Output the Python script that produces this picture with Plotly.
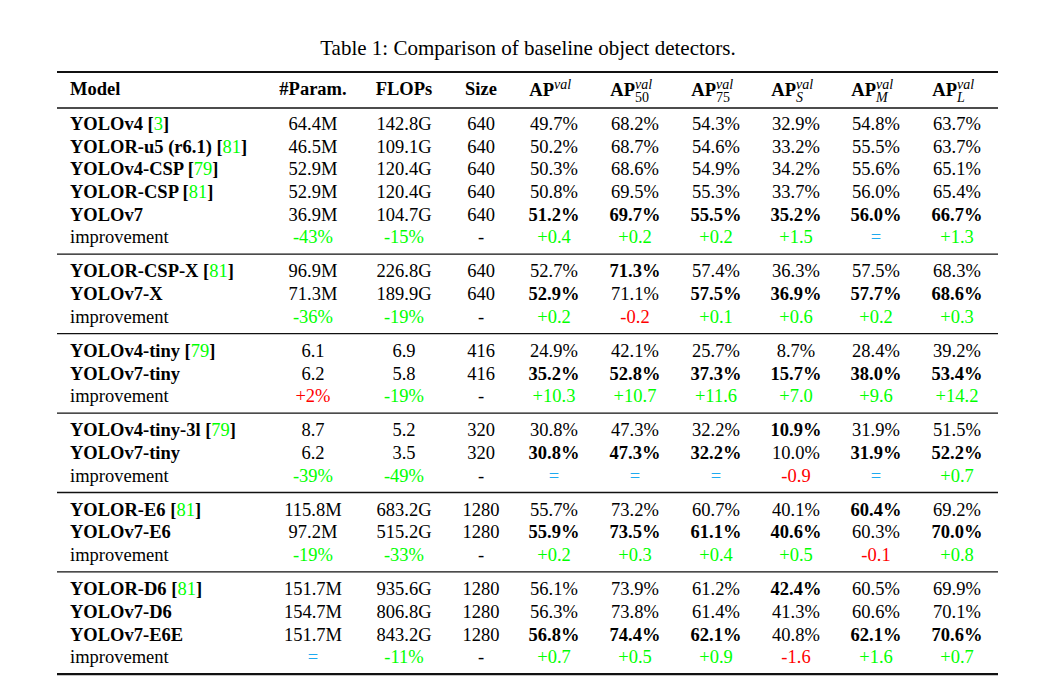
import plotly.graph_objects as go

# ---------------- data ----------------
title = "Table 1: Comparison of baseline object detectors."
head_cols = ["Model", "#Param.", "FLOPs", "Size"]
ap_subs = ["", "50", "75", "S", "M", "L"]
ap_sub_italic = [False, False, False, True, True, True]

models = ["YOLOv4", "YOLOR-u5 (r6.1)", "YOLOv4-CSP", "YOLOR-CSP", "YOLOv7", "improvement",
          "YOLOR-CSP-X", "YOLOv7-X", "improvement",
          "YOLOv4-tiny", "YOLOv7-tiny", "improvement",
          "YOLOv4-tiny-3l", "YOLOv7-tiny", "improvement",
          "YOLOR-E6", "YOLOv7-E6", "improvement",
          "YOLOR-D6", "YOLOv7-D6", "YOLOv7-E6E", "improvement"]
refs = ["3", "81", "79", "81", "", "",
        "81", "", "",
        "79", "", "",
        "79", "", "",
        "81", "", "",
        "81", "", "", ""]
group_sizes = [6, 3, 3, 3, 3, 4]

params = ["64.4M", "46.5M", "52.9M", "52.9M", "36.9M", "-43%",
          "96.9M", "71.3M", "-36%",
          "6.1", "6.2", "+2%",
          "8.7", "6.2", "-39%",
          "115.8M", "97.2M", "-19%",
          "151.7M", "154.7M", "151.7M", "="]
flops = ["142.8G", "109.1G", "120.4G", "120.4G", "104.7G", "-15%",
         "226.8G", "189.9G", "-19%",
         "6.9", "5.8", "-19%",
         "5.2", "3.5", "-49%",
         "683.2G", "515.2G", "-33%",
         "935.6G", "806.8G", "843.2G", "-11%"]
sizes = ["640", "640", "640", "640", "640", "-",
         "640", "640", "-",
         "416", "416", "-",
         "320", "320", "-",
         "1280", "1280", "-",
         "1280", "1280", "1280", "-"]
ap = ["49.7%", "50.2%", "50.3%", "50.8%", "51.2%", "+0.4",
      "52.7%", "52.9%", "+0.2",
      "24.9%", "35.2%", "+10.3",
      "30.8%", "30.8%", "=",
      "55.7%", "55.9%", "+0.2",
      "56.1%", "56.3%", "56.8%", "+0.7"]
ap50 = ["68.2%", "68.7%", "68.6%", "69.5%", "69.7%", "+0.2",
        "71.3%", "71.1%", "-0.2",
        "42.1%", "52.8%", "+10.7",
        "47.3%", "47.3%", "=",
        "73.2%", "73.5%", "+0.3",
        "73.9%", "73.8%", "74.4%", "+0.5"]
ap75 = ["54.3%", "54.6%", "54.9%", "55.3%", "55.5%", "+0.2",
        "57.4%", "57.5%", "+0.1",
        "25.7%", "37.3%", "+11.6",
        "32.2%", "32.2%", "=",
        "60.7%", "61.1%", "+0.4",
        "61.2%", "61.4%", "62.1%", "+0.9"]
apS = ["32.9%", "33.2%", "34.2%", "33.7%", "35.2%", "+1.5",
       "36.3%", "36.9%", "+0.6",
       "8.7%", "15.7%", "+7.0",
       "10.9%", "10.0%", "-0.9",
       "40.1%", "40.6%", "+0.5",
       "42.4%", "41.3%", "40.8%", "-1.6"]
apM = ["54.8%", "55.5%", "55.6%", "56.0%", "56.0%", "=",
       "57.5%", "57.7%", "+0.2",
       "28.4%", "38.0%", "+9.6",
       "31.9%", "31.9%", "=",
       "60.4%", "60.3%", "-0.1",
       "60.5%", "60.6%", "62.1%", "+1.6"]
apL = ["63.7%", "63.7%", "65.1%", "65.4%", "66.7%", "+1.3",
       "68.3%", "68.6%", "+0.3",
       "39.2%", "53.4%", "+14.2",
       "51.5%", "52.2%", "+0.7",
       "69.2%", "70.0%", "+0.8",
       "69.9%", "70.1%", "70.6%", "+0.7"]
# AP columns (0..5) printed in bold, per row
bold_ap = {4: [0, 1, 2, 3, 4, 5], 6: [1], 7: [0, 2, 3, 4, 5], 10: [0, 1, 2, 3, 4, 5],
           12: [3], 13: [0, 1, 2, 4, 5], 15: [4], 16: [0, 1, 2, 3, 5],
           18: [3], 20: [0, 1, 2, 4, 5]}

# ---------------- layout / style ----------------
W, H = 1063, 686
PAGE_OFF = 8          # browser body margin compensation
FONT = "Liberation Serif"
FS = 18.5
FS_TITLE = 21
FS_SMALL = 14
GREEN, RED, BLUE, BLACK = "#00ff00", "#ff0000", "#1eaaf0", "#000000"
X_MODEL = 70
COL_X = [313, 404, 481, 554, 635, 716, 796, 876, 957]
Y_TITLE = 50
Y_HEAD = 90.5
Y_FIRST = 125.3
ROW_H = 22.68
GROUP_GAP = 11.4
RULE_X0, RULE_X1 = 57, 998
Y_TOP_RULE, Y_HEAD_RULE = 72, 108
RULE_BELOW = 15.5

group_of = []
for g, n in enumerate(group_sizes):
    group_of += [g] * n
row_y = [Y_FIRST + ROW_H * i + GROUP_GAP * g for i, g in enumerate(group_of)]

fig = go.Figure()


def add_text(xs, ys, texts, colors, pos, size=FS):
    fig.add_trace(go.Scatter(
        x=xs, y=ys, text=texts, mode="text", textposition=pos,
        textfont=dict(family=FONT, size=size, color=colors),
        hoverinfo="skip", showlegend=False))


def add_rule(y, width):
    fig.add_trace(go.Scatter(
        x=[RULE_X0, RULE_X1], y=[y, y], mode="lines",
        line=dict(color="#111111", width=width),
        hoverinfo="skip", showlegend=False))


# title
add_text([528], [Y_TITLE], [title], [BLACK], "middle center", FS_TITLE)

# header
add_text([X_MODEL], [Y_HEAD], ["<b>Model</b>"], [BLACK], "middle right")
add_text(COL_X[:3], [Y_HEAD] * 3, ["<b>%s</b>" % h for h in head_cols[1:]], [BLACK] * 3, "middle center")
ap_cols_x = COL_X[3:]
add_text(ap_cols_x, [Y_HEAD + 1] * 6, ["<b>AP</b>"] * 6, [BLACK] * 6, "middle left")
add_text(ap_cols_x, [Y_HEAD - 5.5] * 6, ["<i>val</i>"] * 6, [BLACK] * 6, "middle right", FS_SMALL)
sub_x = [x for x, s in zip(ap_cols_x, ap_subs) if s]
sub_t = [("<i>%s</i>" % s) if it else s for s, it in zip(ap_subs, ap_sub_italic) if s]
add_text(sub_x, [Y_HEAD + 8] * len(sub_x), sub_t, [BLACK] * len(sub_x), "middle right", FS_SMALL)

# model column
model_txt = []
for m, r in zip(models, refs):
    if m == "improvement":
        model_txt.append(m)
    elif r:
        model_txt.append("<b>%s [</b><span style='color:%s'>%s</span><b>]</b>" % (m, GREEN, r))
    else:
        model_txt.append("<b>%s</b>" % m)
add_text([X_MODEL] * len(models), row_y, model_txt, [BLACK] * len(models), "middle right")


def impr_color(v, lower_better):
    if v == "=":
        return BLUE
    if v == "-":
        return BLACK
    neg = v.startswith("-")
    good = neg if lower_better else not neg
    return GREEN if good else RED


columns = [params, flops, sizes, ap, ap50, ap75, apS, apM, apL]
for c, vals in enumerate(columns):
    txt, col = [], []
    for r, v in enumerate(vals):
        if models[r] == "improvement":
            col.append(impr_color(v, c < 2))
            txt.append(v)
        else:
            col.append(BLACK)
            if c >= 3 and (c - 3) in bold_ap.get(r, []):
                txt.append("<b>%s</b>" % v)
            else:
                txt.append(v)
    add_text([COL_X[c]] * len(vals), row_y, txt, col, "middle center")

# rules
add_rule(Y_TOP_RULE, 2.2)
add_rule(Y_HEAD_RULE, 1.3)
end = 0
for g, n in enumerate(group_sizes):
    end += n
    last_y = row_y[end - 1]
    add_rule(last_y + RULE_BELOW, 2.2 if g == len(group_sizes) - 1 else 1.3)

fig.update_layout(
    width=W, height=H, margin=dict(l=0, r=0, t=0, b=0),
    paper_bgcolor="white", plot_bgcolor="white",
    xaxis=dict(range=[PAGE_OFF, W + PAGE_OFF], visible=False, fixedrange=True),
    yaxis=dict(range=[H + PAGE_OFF, PAGE_OFF], visible=False, fixedrange=True),
)
fig.write_html("out.html")
